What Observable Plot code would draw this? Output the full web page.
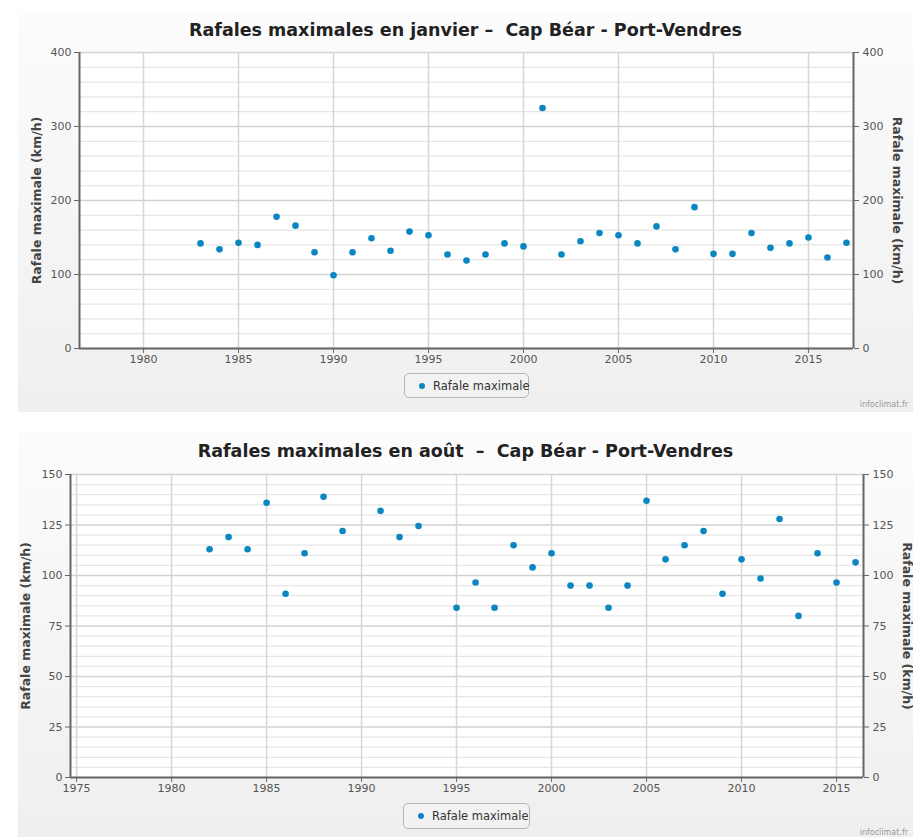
<!DOCTYPE html>
<html><head><meta charset="utf-8">
<script src="https://cdn.jsdelivr.net/npm/d3@7"></script>
<script src="https://cdn.jsdelivr.net/npm/@observablehq/plot@0.6"></script>
<style>
body{margin:0;background:#fff;width:913px;height:837px;position:relative;overflow:hidden;font-family:"DejaVu Sans",sans-serif;}
.panel{position:absolute;left:18px;width:895px;background:linear-gradient(#fcfcfc,#efefef);}
.title{position:absolute;left:0;width:100%;text-align:center;font-weight:bold;font-size:17.5px;line-height:20px;color:#222;}
.plotwrap{position:absolute;left:0;}
.legend{position:absolute;border:1px solid #b5b5b5;border-radius:5px;box-sizing:border-box;font-size:11.5px;color:#333;background:rgba(255,255,255,0.15);}
.legend .dot{position:absolute;left:14px;top:50%;width:6px;height:6px;margin-top:-3px;border-radius:50%;background:#0a87c1;}
.legend .lab{position:absolute;left:28px;top:50%;transform:translateY(-50%);white-space:nowrap;}
.credit{position:absolute;right:5px;font-size:8px;color:#999;}
</style>
</head><body>
<div class="panel" id="p1" style="top:10px;height:402px;">
  <div class="title" style="top:10px;">Rafales maximales en janvier –&nbsp; Cap Béar - Port-Vendres</div>
  <div class="plotwrap" id="c1" style="top:30px;"></div>
  <div class="legend" style="left:386px;top:363px;width:125px;height:25px;"><span class="dot"></span><span class="lab">Rafale maximale</span></div>
  <div class="credit" style="top:390px;">infoclimat.fr</div>
</div>
<div class="panel" id="p2" style="top:432px;height:405px;">
  <div class="title" style="top:9px;">Rafales maximales en août&nbsp; –&nbsp; Cap Béar - Port-Vendres</div>
  <div class="plotwrap" id="c2" style="top:32px;"></div>
  <div class="legend" style="left:385px;top:371px;width:127px;height:26px;"><span class="dot"></span><span class="lab">Rafale maximale</span></div>
  <div class="credit" style="top:396px;">infoclimat.fr</div>
</div>
<script>
// ---- January data ----
const janYears = [1983,1984,1985,1986,1987,1988,1989,1990,1991,1992,1993,1994,1995,1996,1997,1998,1999,2000,2001,2002,2003,2004,2005,2006,2007,2008,2009,2010,2011,2012,2013,2014,2015,2016,2017];
const janGusts = [142,134,143,140,178,166,130,99,130,149,132,158,153,127,119,127,142,138,325,127,145,156,153,142,165,134,191,128,128,156,136,142,150,123,143];
const janXTicks = [1980,1985,1990,1995,2000,2005,2010,2015];
const janYTicks = [0,100,200,300,400];

// ---- August data ----
const augYears = [1982,1983,1984,1985,1986,1987,1988,1989,1991,1992,1993,1995,1996,1997,1998,1999,2000,2001,2002,2003,2004,2005,2006,2007,2008,2009,2010,2011,2012,2013,2014,2015,2016];
const augGusts = [113,119,113,136,91,111,139,122,132,119,124.5,84,96.5,84,115,104,111,95,95,84,95,137,108,115,122,91,108,98.5,128,80,111,96.5,106.5];
const augXTicks = [1975,1980,1985,1990,1995,2000,2005,2010,2015];
const augYTicks = [0,25,50,75,100,125,150];

const yLabel = "Rafale maximale (km/h)";

function chart(o) {
  const data = o.years.map((y, i) => ({year: y, gust: o.values[i]}));
  const yMax = o.yTicks[o.yTicks.length - 1];
  const minor = d3.range(0, yMax + 0.001, o.minorStep).filter(v => !o.yTicks.includes(v));
  return Plot.plot({
    width: 895, height: o.height,
    marginTop: o.mt, marginBottom: o.mb, marginLeft: o.ml, marginRight: o.mr,
    style: {background: "transparent", fontFamily: "DejaVu Sans, sans-serif", fontSize: "11px", color: "#555", overflow: "visible"},
    x: {domain: o.xDomain},
    y: {domain: [0, yMax]},
    marks: [
      Plot.frame({fill: "white", stroke: null}),
      Plot.ruleY(minor, {stroke: "#e6e6e6", strokeWidth: 1.2}),
      Plot.ruleY(o.yTicks, {stroke: "#d2d2d2", strokeWidth: 1.5}),
      Plot.ruleX(o.xTicks, {stroke: "#d6d6d6", strokeWidth: 1.5}),
      Plot.ruleY([0], {stroke: "#666", strokeWidth: 2}),
      Plot.ruleX([o.xDomain[0], o.xDomain[1]], {stroke: "#666", strokeWidth: 2}),
      Plot.axisX({ticks: o.xTicks, tickFormat: d => String(d), tickSize: 5, tickPadding: 2, stroke: "#666", label: null}),
      Plot.axisY({anchor: "left", ticks: o.yTicks, tickSize: 5, tickPadding: 3, stroke: "#666", label: null}),
      Plot.axisY({anchor: "right", ticks: o.yTicks, tickSize: 5, tickPadding: 4, stroke: "#666", label: null}),
      Plot.dot(data, {x: "year", y: "gust", r: 3.3, fill: "#0a87c1", stroke: null}),
      Plot.text([yLabel], {frameAnchor: "left", textAnchor: "middle", dx: o.ldx, rotate: -90, fontWeight: "bold", fontSize: 12.5, fill: "#444"}),
      Plot.text([yLabel], {frameAnchor: "right", textAnchor: "middle", dx: o.rdx, rotate: 90, fontWeight: "bold", fontSize: 12.5, fill: "#444"})
    ]
  });
}

document.getElementById("c1").append(chart({
  years: janYears, values: janGusts, xTicks: janXTicks, yTicks: janYTicks, minorStep: 20,
  xDomain: [1976.63, 2017.37], height: 330, mt: 12, mb: 22, ml: 61, mr: 60, ldx: -43, rdx: 43
}));
document.getElementById("c2").append(chart({
  years: augYears, values: augGusts, xTicks: augXTicks, yTicks: augYTicks, minorStep: 5,
  xDomain: [1974.68, 2016.42], height: 335, mt: 10, mb: 22, ml: 52, mr: 50, ldx: -45, rdx: 43
}));
</script>
</body></html>
